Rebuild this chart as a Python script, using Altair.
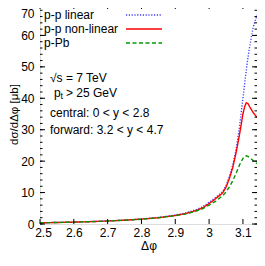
import altair as alt
import pandas as pd

# ---- data ----
phi = [2.50, 2.55, 2.60, 2.65, 2.70, 2.75, 2.80, 2.85, 2.90, 2.93, 2.96, 2.98,
       3.00, 3.02, 3.04, 3.05, 3.06, 3.07, 3.08, 3.09, 3.10, 3.105, 3.11, 3.115,
       3.12, 3.13, 3.1416]
pp_linear = [0.40, 0.50, 0.62, 0.78, 0.98, 1.25, 1.60, 2.10, 2.85, 3.50, 4.50, 5.40,
             6.90, 8.50, 10.3, 12.2, 15.2, 18.8, 23.8, 31.0, 40.0, 44.5, 49.0, 53.0,
             56.5, 62.5, 66.5]
pp_nonlinear = [0.38, 0.48, 0.60, 0.75, 0.95, 1.20, 1.55, 2.00, 2.70, 3.30, 4.25, 5.10,
                6.50, 8.10, 9.9, 11.7, 14.5, 18.0, 22.8, 28.5, 35.0, 37.3, 38.6, 38.3,
                37.3, 35.5, 33.9]
p_pb = [0.38, 0.48, 0.60, 0.75, 0.95, 1.20, 1.52, 1.98, 2.65, 3.20, 4.05, 4.80,
        6.00, 7.30, 9.0, 10.2, 11.8, 13.8, 16.2, 18.8, 20.9, 21.5, 21.7, 21.5,
        21.1, 20.2, 19.2]
series_names = ["p-p linear", "p-p non-linear", "p-Pb"]
series_colors = ["#3f3fff", "#ff0000", "#009900"]
series_dash = [[1.2, 1.6], [1, 0], [4, 2.5]]
x_ticks = [2.5, 2.6, 2.7, 2.8, 2.9, 3.0, 3.1]
y_ticks = [0, 10, 20, 30, 40, 50, 60, 70]
y_minor = [v for v in range(0, 71, 2)]

rows = []
for name, vals in zip(series_names, [pp_linear, pp_nonlinear, p_pb]):
    for p, v in zip(phi, vals):
        rows.append({"phi": p, "val": v, "series": name})
df = pd.DataFrame(rows)

W, H = 217, 220
FONT = "Liberation Sans"
xs = alt.Scale(domain=[2.5, 3.1416], nice=False, zero=False)
ys = alt.Scale(domain=[0, 70], nice=False, zero=False)
x_axis = alt.Axis(values=x_ticks, format="~g", ticks=False, domain=False, grid=False,
                  labelFlush=False, labelFont=FONT, labelFontSize=12, labelColor="#000",
                  labelOffset={"condition": {"test": "datum.value <= 2.5", "value": 3},
                               "value": 0},
                  labelPadding=3, titleFont=FONT, titleFontSize=12,
                  titleFontWeight="normal", titleColor="#000", titlePadding=2)
y_axis = alt.Axis(values=y_ticks, ticks=False, domain=False, grid=False,
                  labelFlush=False, labelFont=FONT, labelFontSize=12, labelColor="#000",
                  labelBaseline={"condition": {"test": "datum.value >= 70", "value": "top"},
                                 "value": "middle"},
                  labelOffset={"condition": {"test": "datum.value >= 70", "value": 4},
                               "value": 0},
                  labelPadding=6, titleFont=FONT, titleFontSize=11.5,
                  titleFontWeight="normal", titleColor="#000", titlePadding=1)

def X(field):
    return alt.X(field, scale=xs, title="Δφ", axis=x_axis)

def Y(field):
    return alt.Y(field, scale=ys, title="dσ/dΔφ [μb]", axis=y_axis)

lines = alt.Chart(df).mark_line(strokeWidth=1.4).encode(
    x=X("phi:Q"),
    y=Y("val:Q"),
    color=alt.Color("series:N", scale=alt.Scale(domain=series_names, range=series_colors), legend=None),
    strokeDash=alt.StrokeDash("series:N", scale=alt.Scale(domain=series_names, range=series_dash), legend=None),
    order=alt.Order("phi:Q"),
)

xt = pd.DataFrame({"phi": x_ticks})
yt = pd.DataFrame({"val": y_ticks})
ym = pd.DataFrame({"val": y_minor})
tick_style = dict(color="#000", strokeWidth=1)
ticks = [
    alt.Chart(xt).mark_rule(**tick_style).encode(x=X("phi:Q"), y=alt.value(H), y2=alt.value(H - 5)),
    alt.Chart(xt).mark_rule(**tick_style).encode(x=X("phi:Q"), y=alt.value(0), y2=alt.value(5)),
    alt.Chart(yt).mark_rule(**tick_style).encode(y=Y("val:Q"), x=alt.value(0), x2=alt.value(5)),
    alt.Chart(yt).mark_rule(**tick_style).encode(y=Y("val:Q"), x=alt.value(W), x2=alt.value(W - 5)),
    alt.Chart(ym).mark_rule(**tick_style).encode(y=Y("val:Q"), x=alt.value(0), x2=alt.value(2.5)),
    alt.Chart(ym).mark_rule(**tick_style).encode(y=Y("val:Q"), x=alt.value(W), x2=alt.value(W - 2.5)),
]

# legend (manual: label left, line sample right)
legend_layers = []
leg_y = [11, 25, 39]
for name, col, dash, yy in zip(series_names, series_colors, series_dash, leg_y):
    legend_layers.append(
        alt.Chart(pd.DataFrame({"t": [name]})).mark_text(
            align="left", baseline="middle", font=FONT, fontSize=12, color="#000"
        ).encode(text="t:N", x=alt.value(4), y=alt.value(yy))
    )
    legend_layers.append(
        alt.Chart(pd.DataFrame({"t": [name]})).mark_rule(
            color=col, strokeDash=dash, strokeWidth=1.4
        ).encode(x=alt.value(86), x2=alt.value(122), y=alt.value(yy))
    )

def label(txt, x, y, size=12):
    return alt.Chart(pd.DataFrame({"t": [txt]})).mark_text(
        align="left", baseline="middle", font=FONT, fontSize=size, color="#000"
    ).encode(text="t:N", x=alt.value(x), y=alt.value(y))

notes = [
    label("√s = 7 TeV", 10, 74),
    label("p", 14, 89),
    label("t", 20.5, 92, 9),
    label("> 25 GeV", 26, 89),
    label("central: 0 < y < 2.8", 10, 109),
    label("forward: 3.2 < y < 4.7", 10, 126),
]

chart = alt.layer(lines, *ticks, *legend_layers, *notes).properties(
    width=W, height=H,
    autosize=alt.AutoSizeParams(type="none"),
    padding={"left": 32, "top": -4, "right": 0, "bottom": 29},
).configure_view(stroke="#000", strokeWidth=1).configure(background="white")

chart.save("out.html", embed_options={"renderer": "svg", "actions": False})
